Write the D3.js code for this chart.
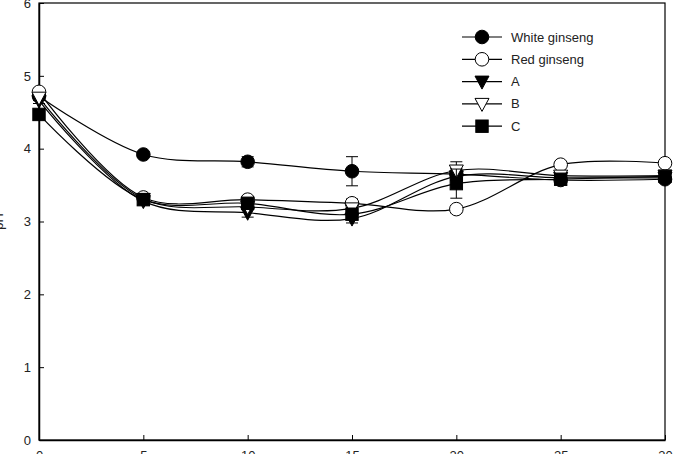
<!DOCTYPE html>
<html>
<head>
<meta charset="utf-8">
<script src="https://cdn.jsdelivr.net/npm/d3@7"></script>
<style>
  body { margin: 0; background: #fff; }
  svg { display: block; font-family: "Liberation Sans", Arial, sans-serif; }
</style>
</head>
<body>
<svg id="chart" width="674" height="454"></svg>
<script>
const days = [0, 5, 10, 15, 20, 25, 30];
const whiteGinseng = [4.72, 3.92, 3.82, 3.69, 3.65, 3.57, 3.58];
const whiteErr = [0.05, 0.04, 0.07, 0.2, 0.08, 0.03, 0.03];
const redGinseng = [4.78, 3.33, 3.30, 3.25, 3.17, 3.78, 3.80];
const redErr = [0.03, 0.03, 0.04, 0.06, 0.05, 0.03, 0.03];
const seriesA = [4.66, 3.28, 3.12, 3.04, 3.62, 3.60, 3.60];
const errA = [0.04, 0.05, 0.06, 0.06, 0.06, 0.03, 0.03];
const seriesB = [4.70, 3.31, 3.20, 3.18, 3.70, 3.63, 3.63];
const errB = [0.04, 0.03, 0.04, 0.05, 0.12, 0.03, 0.03];
const seriesC = [4.47, 3.30, 3.25, 3.10, 3.52, 3.58, 3.62];
const errC = [0.04, 0.03, 0.05, 0.05, 0.2, 0.03, 0.03];
const seriesNames = ["White ginseng", "Red ginseng", "A", "B", "C"];
const xTicks = [0, 5, 10, 15, 20, 25, 30];
const yTicks = [0, 1, 2, 3, 4, 5, 6];

const series = [
  { name: seriesNames[0], values: whiteGinseng, err: whiteErr, shape: "circle", fill: "#000" },
  { name: seriesNames[1], values: redGinseng, err: redErr, shape: "circle", fill: "#fff" },
  { name: seriesNames[2], values: seriesA, err: errA, shape: "tri", fill: "#000" },
  { name: seriesNames[3], values: seriesB, err: errB, shape: "tri", fill: "#fff" },
  { name: seriesNames[4], values: seriesC, err: errC, shape: "square", fill: "#000" }
];

const margin = { left: 39, top: 3 };
const width = 626;
const height = 437;

const svg = d3.select("#chart");
const g = svg.append("g").attr("transform", `translate(${margin.left}, ${margin.top})`);

const xScale = d3.scaleLinear().domain([0, 30]).range([0, width]);
const yScale = d3.scaleLinear().domain([0, 6]).range([height, 0]);

// frame
g.append("rect")
  .attr("width", width)
  .attr("height", height)
  .attr("fill", "none")
  .attr("stroke", "#000")
  .attr("stroke-width", 1.2);

// axis - x
g.append("g")
  .attr("transform", `translate(0, ${height})`)
  .call(d3.axisBottom(xScale).tickValues(xTicks).tickFormat(d3.format("d")).tickSizeInner(-5).tickSizeOuter(0).tickPadding(11))
  .call(a => a.select(".domain").attr("stroke-width", 1.5))
  .call(a => a.selectAll("text").attr("font-size", "13px").attr("fill", "#222"));

// axis - y
g.append("g")
  .call(d3.axisLeft(yScale).tickValues(yTicks).tickFormat(d3.format("d")).tickSizeInner(-5).tickSizeOuter(0).tickPadding(8))
  .call(a => a.select(".domain").attr("stroke-width", 1.5))
  .call(a => a.selectAll("text").attr("font-size", "13px").attr("fill", "#222"));

svg.append("text")
  .attr("transform", `translate(3, ${margin.top + yScale(3)}) rotate(-90)`)
  .attr("text-anchor", "middle")
  .attr("font-size", "13px")
  .attr("fill", "#222")
  .text("pH");

function drawSymbol(sel, shape, fill, cx, cy) {
  if (shape === "circle") {
    sel.append("circle").attr("cx", cx).attr("cy", cy).attr("r", 6.8)
      .attr("fill", fill).attr("stroke", "#000").attr("stroke-width", 1);
  } else if (shape === "tri") {
    sel.append("path")
      .attr("d", `M${cx - 7},${cy - 5.5} L${cx + 7},${cy - 5.5} L${cx},${cy + 7.5} Z`)
      .attr("fill", fill).attr("stroke", "#000").attr("stroke-width", 1);
  } else {
    sel.append("rect").attr("x", cx - 6.2).attr("y", cy - 6.2).attr("width", 12.4).attr("height", 12.4)
      .attr("fill", fill).attr("stroke", "#000").attr("stroke-width", 1);
  }
}

const line = d3.line()
  .x((d, i) => xScale(days[i]))
  .y(d => yScale(d))
  .curve(d3.curveCatmullRom.alpha(0.5));

series.forEach(s => {
  const sg = g.append("g").attr("class", "series");

  sg.append("path")
    .attr("d", line(s.values))
    .attr("fill", "none")
    .attr("stroke", "#000")
    .attr("stroke-width", 1.2);

  s.values.forEach((v, i) => {
    const cx = xScale(days[i]);
    const e = s.err[i];
    sg.append("line")
      .attr("x1", cx).attr("x2", cx)
      .attr("y1", yScale(v - e)).attr("y2", yScale(v + e))
      .attr("stroke", "#000").attr("stroke-width", 1);
    [v - e, v + e].forEach(c => {
      sg.append("line")
        .attr("x1", cx - 6).attr("x2", cx + 6)
        .attr("y1", yScale(c)).attr("y2", yScale(c))
        .attr("stroke", "#000").attr("stroke-width", 1);
    });
    drawSymbol(sg, s.shape, s.fill, cx, yScale(v));
  });
});

// legend
const legend = svg.append("g").attr("transform", "translate(462, 37)");
series.forEach((s, i) => {
  const lg = legend.append("g").attr("transform", `translate(0, ${i * 22.3})`);
  lg.append("line").attr("x1", 0).attr("x2", 40).attr("y1", 0).attr("y2", 0)
    .attr("stroke", "#000").attr("stroke-width", 1.2);
  drawSymbol(lg, s.shape, s.fill, 20, 0);
  lg.append("text").attr("x", 49).attr("y", 0).attr("dy", "0.35em")
    .attr("font-size", "13px").attr("fill", "#222").text(s.name);
});
</script>
</body>
</html>
